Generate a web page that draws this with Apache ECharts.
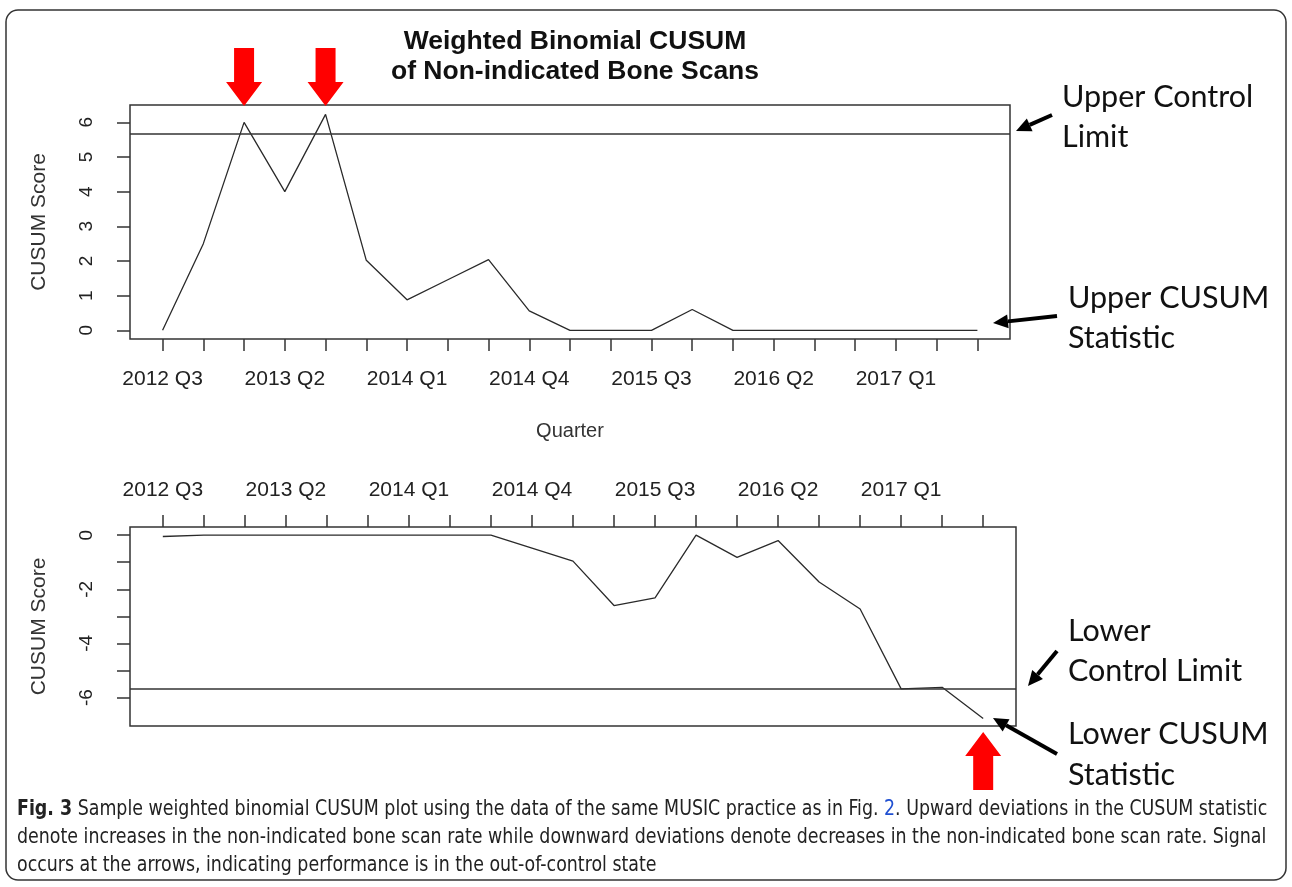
<!DOCTYPE html>
<html>
<head>
<meta charset="utf-8">
<script src="https://cdn.jsdelivr.net/npm/echarts@6/dist/echarts.min.js"></script>
<style>
  html, body { margin: 0; padding: 0; background: #fff; }
  #chart { width: 1292px; height: 887px; }
</style>
</head>
<body>
<div id="chart"></div>
<script>
// 数据
const quarters = ['2012 Q3', '2012 Q4', '2013 Q1', '2013 Q2', '2013 Q3', '2013 Q4', '2014 Q1',
  '2014 Q2', '2014 Q3', '2014 Q4', '2015 Q1', '2015 Q2', '2015 Q3', '2015 Q4', '2016 Q1',
  '2016 Q2', '2016 Q3', '2016 Q4', '2017 Q1', '2017 Q2', '2017 Q3'];
const upperCusum = [0, 2.5, 6.0, 4.0, 6.23, 2.02, 0.88, 1.46, 2.04, 0.56, 0, 0, 0, 0.6, 0, 0, 0, 0, 0, 0, 0];
const lowerCusum = [-0.05, 0, 0, 0, 0, 0, 0, 0, 0, -0.48, -0.96, -2.6, -2.32, 0, -0.82, -0.2, -1.73, -2.73, -5.68, -5.62, -6.77];
const upperLimit = 5.68;
const lowerLimit = -5.68;
const labelIdx = [0, 3, 6, 9, 12, 15, 18];
const upperTicks = [0, 1, 2, 3, 4, 5, 6];
const lowerTicks = [0, -1, -2, -3, -4, -5, -6];
const lowerLabels = [0, -2, -4, -6];
const upperSignals = [2, 4];
const lowerSignals = [20];

const tickIdx = quarters.map((q, i) => i);
const ink = '#333';
const rFont = 'Liberation Sans, Arial, sans-serif';

const chart = echarts.init(document.getElementById('chart'));

function xAxisFor(grid, pos, margin) {
  return {
    type: 'value', gridIndex: grid, position: pos,
    min: -0.8, max: 20.8,
    splitLine: { show: false },
    axisLine: { show: false, onZero: false },
    axisTick: { show: true, customValues: tickIdx, length: 12, lineStyle: { color: ink, width: 1.5 } },
    axisLabel: {
      customValues: labelIdx, margin: margin, color: '#222', fontSize: 21, fontFamily: rFont,
      formatter: v => quarters[Math.round(v)] || ''
    }
  };
}

function yAxisFor(grid, min, max, ticks, labels) {
  return {
    type: 'value', gridIndex: grid, min: min, max: max,
    name: 'CUSUM Score', nameLocation: 'middle', nameGap: 80,
    nameTextStyle: { color: '#333', fontSize: 21, fontFamily: rFont },
    splitLine: { show: false },
    axisLine: { show: false, onZero: false },
    axisTick: { show: true, customValues: ticks, length: 13, lineStyle: { color: ink, width: 1.5 } },
    axisLabel: { customValues: labels, rotate: 90, margin: 34, color: '#222', fontSize: 19, fontFamily: rFont }
  };
}

const upperX = xAxisFor(0, 'bottom', 30);
upperX.name = 'Quarter';
upperX.nameLocation = 'middle';
upperX.nameGap = 82;
upperX.nameTextStyle = { color: '#333', fontSize: 20, fontFamily: rFont };

chart.setOption({
  animation: false,
  backgroundColor: '#fff',
  title: {
    text: 'Weighted Binomial CUSUM\nof Non-indicated Bone Scans',
    left: 570, top: 22, textAlign: 'center',
    textStyle: { fontSize: 26.5, fontWeight: 'bold', color: '#111', fontFamily: rFont, lineHeight: 30 }
  },
  grid: [
    { left: 130, top: 105, width: 880, height: 234, show: true, borderColor: ink, borderWidth: 1.5 },
    { left: 130, top: 527, width: 886, height: 199, show: true, borderColor: ink, borderWidth: 1.5 }
  ],
  xAxis: [upperX, xAxisFor(1, 'top', 26)],
  yAxis: [
    yAxisFor(0, -0.25, 6.5, upperTicks, upperTicks),
    yAxisFor(1, -7.05, 0.3, lowerTicks, lowerLabels)
  ],
  series: [
    {
      name: 'Upper CUSUM', type: 'line', xAxisIndex: 0, yAxisIndex: 0,
      data: upperCusum.map((v, i) => [i, v]),
      symbol: 'none', lineStyle: { color: '#2a2a2a', width: 1.3 },
      markLine: {
        silent: true, symbol: 'none', label: { show: false },
        lineStyle: { color: ink, width: 1.5, type: 'solid' },
        data: [{ yAxis: upperLimit }]
      }
    },
    {
      name: 'Lower CUSUM', type: 'line', xAxisIndex: 1, yAxisIndex: 1,
      data: lowerCusum.map((v, i) => [i, v]),
      symbol: 'none', lineStyle: { color: '#2a2a2a', width: 1.3 },
      markLine: {
        silent: true, symbol: 'none', label: { show: false },
        lineStyle: { color: ink, width: 1.5, type: 'solid' },
        data: [{ yAxis: lowerLimit }]
      }
    }
  ]
});

// 红色信号箭头
function redArrow(cx, tipY, dir) {
  const len = 58, headLen = 24, shaftW = 10, headW = 18;
  const baseY = tipY - dir * len;
  const neckY = tipY - dir * headLen;
  return {
    type: 'polygon', z: 10,
    shape: { points: [
      [cx - shaftW, baseY], [cx + shaftW, baseY], [cx + shaftW, neckY], [cx + headW, neckY],
      [cx, tipY], [cx - headW, neckY], [cx - shaftW, neckY]
    ] },
    style: { fill: '#f00' }
  };
}

// 黑色注释箭头
function blackArrow(x1, y1, x2, y2) {
  const a = Math.atan2(y2 - y1, x2 - x1);
  const hl = 15, hw = 7;
  const bx = x2 - hl * Math.cos(a), by = y2 - hl * Math.sin(a);
  const nx = -Math.sin(a) * hw, ny = Math.cos(a) * hw;
  return [
    { type: 'line', z: 10, shape: { x1: x1, y1: y1, x2: bx, y2: by }, style: { stroke: '#000', lineWidth: 4 } },
    { type: 'polygon', z: 10, shape: { points: [[x2, y2], [bx + nx, by + ny], [bx - nx, by - ny]] }, style: { fill: '#000' } }
  ];
}

function note(text, x, y) {
  return {
    type: 'text', x: x, y: y, z: 10,
    style: { text: text, fill: '#111', font: '30.5px Lato, "Noto Sans", sans-serif', textVerticalAlign: 'middle' }
  };
}

// 图注（横向压缩）
const capFont = '"DejaVu Sans Condensed", "Liberation Sans Narrow", sans-serif';
const capScale = 0.922;
function capLine(text, y, rich) {
  return {
    type: 'text', x: 17, y: y, z: 10, scaleX: capScale,
    style: { text: text, font: '21px ' + capFont, fill: '#222', textVerticalAlign: 'middle', rich: rich }
  };
}

const graphics = [
  {
    type: 'rect', z: 0, silent: true,
    shape: { x: 6, y: 10, width: 1280, height: 870, r: 12 },
    style: { fill: 'none', stroke: '#333', lineWidth: 1.5 }
  },
  note('Upper Control', 1062, 97),
  note('Limit', 1062, 137),
  note('Upper CUSUM', 1068, 298),
  note('Statistic', 1068, 338),
  note('Lower', 1068, 631),
  note('Control Limit', 1068, 671),
  note('Lower CUSUM', 1068, 734),
  note('Statistic', 1068, 775),
  ...blackArrow(1052, 115, 1016, 131),
  ...blackArrow(1057, 316, 993, 323),
  ...blackArrow(1057, 651, 1028, 686),
  ...blackArrow(1057, 754, 993, 718),
  capLine('{b|Fig. 3} Sample weighted binomial CUSUM plot using the data of the same MUSIC practice as in Fig. {l|2}. Upward deviations in the CUSUM statistic', 810, {
    b: { fontWeight: 'bold', fontSize: 21, fontFamily: capFont, fill: '#222' },
    l: { fontSize: 21, fontFamily: capFont, fill: '#1f4fd1' }
  }),
  capLine('denote increases in the non-indicated bone scan rate while downward deviations denote decreases in the non-indicated bone scan rate. Signal', 838),
  capLine('occurs at the arrows, indicating performance is in the out-of-control state', 866)
];

upperSignals.forEach(i => {
  const px = chart.convertToPixel({ xAxisIndex: 0, yAxisIndex: 0 }, [i, 0])[0];
  graphics.push(redArrow(px, 106, 1));
});
lowerSignals.forEach(i => {
  const px = chart.convertToPixel({ xAxisIndex: 1, yAxisIndex: 1 }, [i, 0])[0];
  graphics.push(redArrow(px, 732, -1));
});

chart.setOption({ graphic: graphics });
</script>
</body>
</html>
